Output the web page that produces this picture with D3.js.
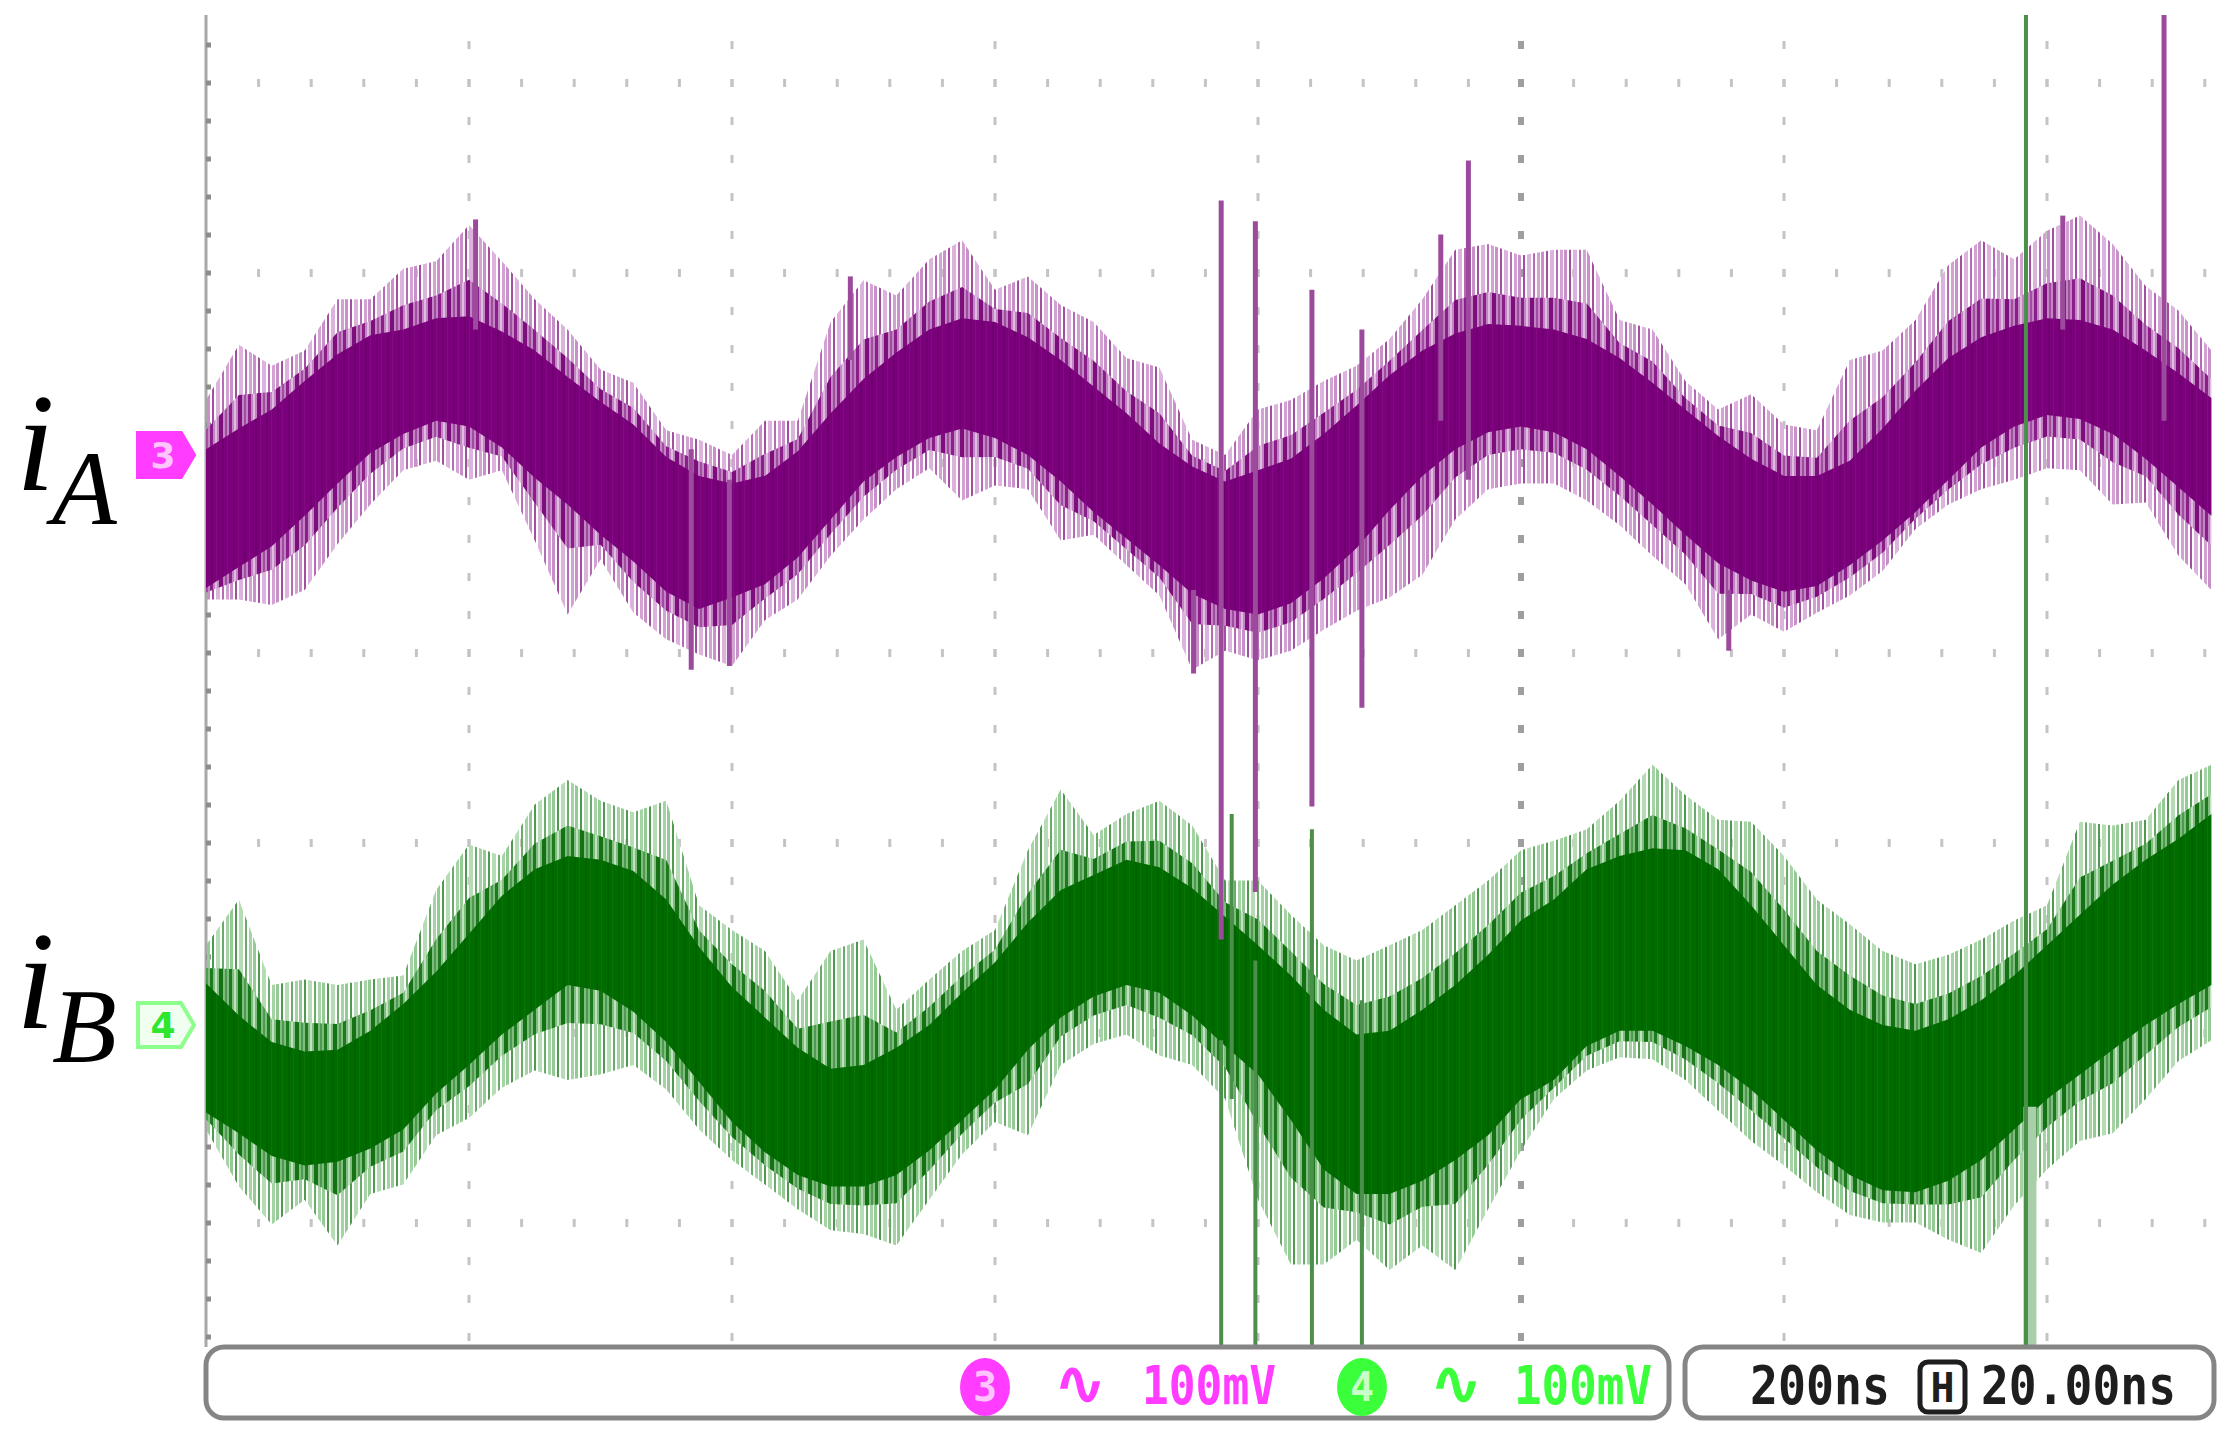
<!DOCTYPE html>
<html>
<head>
<meta charset="utf-8">
<script src="https://cdn.jsdelivr.net/npm/d3@7"></script>
<style>
  html, body { margin: 0; padding: 0; background: #fff; }
  svg { display: block; }
</style>
</head>
<body>
<svg id="scope" width="2237" height="1435"></svg>
<script>
// sample times in ns (200 ns/div), read every 25 ns from the left edge of the screen
const times = [0,25,50,75,100,125,150,175,200,225,250,275,300,325,350,375,400,425,450,475,500,525,550,575,600,625,650,675,700,725,750,775,800,825,850,875,900,925,950,975,1000,1025,1050,1075,1100,1125,1150,1175,1200,1225,1250,1275,1300,1325,1350,1375,1400,1425,1450,1475,1500,1525];

// channel 3 (iA), mV relative to its ground marker: dense band and spike reach
const aCoreHi  = [3,14,24,39,53,63,66,72,73,65,55,41,28,16,-1,-11,-15,-11,2,22,40,54,66,72,70,62,50,36,22,6,-6,-14,-8,-2,11,26,42,55,64,69,68,66,61,51,38,24,10,-2,-11,-11,-3,14,34,51,62,68,72,71,66,55,43,30];
const aCoreLo  = [-70,-59,-48,-32,-15,1,11,18,15,4,-12,-26,-42,-56,-72,-81,-75,-68,-54,-34,-14,-1,9,14,9,0,-14,-30,-44,-58,-73,-81,-84,-78,-65,-49,-29,-11,3,12,15,12,3,-11,-26,-42,-57,-66,-72,-69,-58,-45,-30,-13,4,15,21,19,11,-2,-17,-32];
const aOuterHi = [29,58,47,55,82,82,98,102,121,102,82,66,45,38,13,8,0,18,18,70,92,84,103,113,87,94,79,70,51,46,8,0,24,29,39,47,61,82,108,111,105,108,108,71,66,39,24,32,16,13,50,55,71,100,113,103,118,126,111,89,76,55];
const aOuterLo = [-76,-76,-79,-71,-47,-26,-8,-3,-13,-8,-45,-84,-55,-83,-97,-105,-111,-87,-76,-53,-34,-18,-7,-24,-16,-18,-45,-42,-58,-74,-113,-103,-108,-103,-92,-82,-75,-63,-34,-18,-15,-15,-24,-37,-53,-68,-97,-84,-93,-83,-74,-61,-39,-26,-18,-13,-7,-8,-26,-25,-53,-71];

// channel 4 (iB)
const bCoreHi  = [22,5,-9,-14,-13,-3,11,28,48,68,82,89,87,81,66,41,20,4,-12,-23,-21,-12,0,17,33,54,71,79,87,83,72,57,42,26,8,-5,-3,8,21,37,55,66,82,89,93,92,82,63,42,21,8,0,-3,3,13,26,42,58,74,87,98,111];
const bCoreLo  = [-46,-57,-69,-74,-72,-65,-55,-36,-21,-5,8,21,18,7,-9,-30,-51,-67,-79,-85,-85,-79,-66,-50,-34,-13,4,15,21,17,5,-11,-26,-50,-76,-89,-89,-82,-71,-58,-39,-29,-11,-3,-3,-11,-21,-34,-50,-66,-79,-87,-88,-82,-71,-55,-39,-26,-13,0,11,21];
const bOuterHi = [42,66,21,24,21,24,26,71,95,89,116,129,118,112,118,63,50,39,13,39,45,8,24,39,50,92,124,100,111,118,105,76,76,58,42,34,42,50,63,76,92,97,103,118,137,121,108,107,89,66,53,39,32,37,45,55,63,107,105,108,129,137];
const bOuterLo = [-55,-85,-105,-92,-116,-89,-84,-58,-49,-33,-24,-29,-26,-21,-34,-55,-71,-84,-97,-108,-110,-116,-92,-68,-51,-58,-21,-10,-5,-16,-21,-39,-92,-126,-126,-113,-129,-116,-129,-97,-66,-39,-24,-17,-18,-29,-45,-61,-74,-88,-100,-104,-104,-113,-120,-95,-76,-61,-57,-39,-19,-8];

// isolated glitches (ns, mV top, mV bottom)
const aSpikeT  = [205,369,398,490,751,772,798,841,879,939,960,1158,1412,1489];
const aSpikeHi = [124,3,-13,94,-71,134,123,87,66,116,155,-71,126,232];
const aSpikeLo = [66,-113,-111,50,-115,-255,-230,-185,-133,18,-13,-103,66,18];
const bSpikeT  = [772,780,798,841,879,1384];
const bSpikeHi = [-8,111,34,103,13,532];
const bSpikeLo = [-169,-39,-169,-169,-169,-169];
const bSmearT  = [1387];
const bSmearHi = [-43];
const bSmearLo = [-169];

const W = 2237, H = 1435;
const svg = d3.select('#scope');
const defs = svg.append('defs');
const scr = {left: 206, right: 2217, top: 15, bottom: 1347};

const x = d3.scaleLinear().domain([0, 2000]).range([206, 206 + 263 * 10]);
const screenY = d3.scaleLinear().domain([-3, 3]).range([1223, 83]);
const chA = {offset: 1.042}, chB = {offset: -1.958};
const yOf = (ch, mv) => screenY(ch.offset + mv / 100);

svg.append('rect').attr('width', W).attr('height', H).attr('fill', '#fff');

defs.append('clipPath').attr('id', 'clip')
  .append('rect')
  .attr('x', scr.left).attr('y', scr.top)
  .attr('width', scr.right - scr.left).attr('height', scr.bottom - scr.top);

// stripe fills that imitate the persistence hatching of the scope
function stripes(id, width, bg, bars) {
  const p = defs.append('pattern').attr('id', id)
    .attr('patternUnits', 'userSpaceOnUse').attr('width', width).attr('height', 40);
  if (bg) p.append('rect').attr('width', width).attr('height', 40).attr('fill', bg);
  bars.forEach(([x0, w, c]) => p.append('rect').attr('x', x0).attr('width', w).attr('height', 40).attr('fill', c));
}
stripes('aOuter', 23, null, [[0, 3, '#c98fc9'], [5, 2, '#a24fa2'], [9, 4, '#dcb3dc'], [15, 2, '#b66bb6'], [19, 3, '#d2a2d2']]);
stripes('aMid', 19, '#c384c3', [[1, 3, '#8a1f8a'], [6, 2, '#e0bde0'], [10, 4, '#7d0f7d'], [16, 2, '#a04ca0']]);
stripes('aCore', 11, '#7b007b', [[2, 2, '#700070'], [7, 1, '#840a84']]);
stripes('bOuter', 23, null, [[0, 3, '#94cb94'], [5, 2, '#4f9a4f'], [9, 4, '#b6dcb6'], [15, 2, '#6aaa6a'], [19, 3, '#a5d3a5']]);
stripes('bMid', 19, '#7fbd7f', [[1, 3, '#1f7a1f'], [6, 2, '#c0e2c0'], [10, 4, '#147214'], [16, 2, '#4e9a4e']]);
stripes('bCore', 11, '#006c00', [[2, 2, '#006300'], [7, 1, '#0a740a']]);

// graticule
const grid = svg.append('g');
const rowVals = d3.range(-3, 3.01, 1);
const colTimes = d3.range(200, 1601, 200).filter(t => x(t) < scr.right);
const minorT = d3.range(0, 1700, 40).filter(t => x(t) > scr.left + 4 && x(t) < scr.right);
const minorV = d3.range(-3.6, 3.41, 0.2).filter(v => screenY(v) > scr.top && screenY(v) < scr.bottom - 4);

rowVals.forEach(v => {
  grid.selectAll(null).data(minorT).join('rect')
    .attr('x', t => x(t) - 1.5).attr('y', screenY(v) - 4)
    .attr('width', 3).attr('height', 8).attr('fill', '#c4c4c4');
});
colTimes.forEach(t => {
  const centre = t === 1000;
  grid.selectAll(null).data(minorV).join('rect')
    .attr('x', x(t) - (centre ? 3 : 1.5)).attr('y', v => screenY(v) - 4)
    .attr('width', centre ? 6 : 3).attr('height', 8)
    .attr('fill', centre ? '#9e9e9e' : '#c4c4c4');
});
grid.append('line')
  .attr('x1', scr.left).attr('x2', scr.left)
  .attr('y1', scr.top).attr('y2', scr.bottom)
  .attr('stroke', '#a8a8a8').attr('stroke-width', 3);
grid.selectAll(null).data(minorV).join('rect')
  .attr('x', scr.left).attr('y', v => screenY(v) - 2.5)
  .attr('width', 5).attr('height', 5).attr('fill', '#8c8c8c');

// traces
const traces = svg.append('g').attr('clip-path', 'url(#clip)');

function band(ch, hi, lo, fill) {
  const a = d3.area()
    .x((d, i) => x(times[i]))
    .y0((d, i) => yOf(ch, lo[i]))
    .y1((d, i) => yOf(ch, hi[i]));
  traces.append('path').datum(times).attr('d', a).attr('fill', fill);
}
function trace(ch, coreHi, coreLo, outerHi, outerLo, key) {
  // inner fringe: part way from the dense band to the spike reach
  const midHi = coreHi.map((v, i) => v + 0.4 * (outerHi[i] - v));
  const midLo = coreLo.map((v, i) => v + 0.4 * (outerLo[i] - v));
  band(ch, outerHi, outerLo, `url(#${key}Outer)`);
  band(ch, midHi, midLo, `url(#${key}Mid)`);
  band(ch, coreHi, coreLo, `url(#${key}Core)`);
}
function spikes(ch, ts, his, los, colour, width) {
  traces.append('g').selectAll('line').data(ts).join('line')
    .attr('x1', t => x(t)).attr('x2', t => x(t))
    .attr('y1', (t, i) => yOf(ch, his[i]))
    .attr('y2', (t, i) => yOf(ch, los[i]))
    .attr('stroke', colour).attr('stroke-width', width);
}

trace(chB, bCoreHi, bCoreLo, bOuterHi, bOuterLo, 'b');
trace(chA, aCoreHi, aCoreLo, aOuterHi, aOuterLo, 'a');
spikes(chA, aSpikeT, aSpikeHi, aSpikeLo, '#9c4a9c', 5);
spikes(chB, bSmearT, bSmearHi, bSmearLo, '#a8cfa8', 13);
spikes(chB, bSpikeT, bSpikeHi, bSpikeLo, '#4a904a', 4);

// channel markers and labels
const markers = svg.append('g');
function marker(y, fill, stroke, textFill, label) {
  const p = d3.path();
  p.moveTo(138, y - 22); p.lineTo(181, y - 22); p.lineTo(194, y);
  p.lineTo(181, y + 22); p.lineTo(138, y + 22); p.closePath();
  markers.append('path').attr('d', p.toString())
    .attr('fill', fill).attr('stroke', stroke).attr('stroke-width', 4);
  markers.append('text').attr('x', 163).attr('y', y + 13)
    .attr('text-anchor', 'middle')
    .attr('font-family', 'DejaVu Sans').attr('font-weight', 'bold').attr('font-size', 36)
    .attr('fill', textFill).text(label);
}
marker(yOf(chA, 0), '#ff3cff', '#ff3cff', '#ffc4ff', '3');
marker(yOf(chB, 0), '#f0fff0', '#8cff8c', '#2ee62e', '4');

function chLabel(yBase, sub) {
  const g = svg.append('g').attr('font-family', 'Liberation Serif, Times New Roman, serif')
    .attr('font-style', 'italic').attr('fill', '#000');
  g.append('text').attr('x', 16).attr('y', yBase).attr('font-size', 140).text('i');
  g.append('text').attr('x', 52).attr('y', yBase + 34).attr('font-size', 106).text(sub);
}
chLabel(490, 'A');
chLabel(1028, 'B');

// status bar
const bar = svg.append('g');
bar.append('rect').attr('x', 206).attr('y', 1347).attr('width', 1463).attr('height', 71)
  .attr('rx', 18).attr('fill', '#fff').attr('stroke', '#858585').attr('stroke-width', 5);
bar.append('rect').attr('x', 1685).attr('y', 1347).attr('width', 529).attr('height', 71)
  .attr('rx', 18).attr('fill', '#fff').attr('stroke', '#858585').attr('stroke-width', 5);

const mono = 'DejaVu Sans Mono, monospace';
function badge(cx, fill, textFill, label) {
  bar.append('ellipse').attr('cx', cx).attr('cy', 1387).attr('rx', 25).attr('ry', 29).attr('fill', fill);
  bar.append('text').attr('x', cx).attr('y', 1401).attr('text-anchor', 'middle')
    .attr('font-family', mono).attr('font-weight', 'bold').attr('font-size', 40)
    .attr('fill', textFill).text(label);
}
function barText(x0, len, colour, s) {
  bar.append('text').attr('x', x0).attr('y', 1404)
    .attr('textLength', len).attr('lengthAdjust', 'spacingAndGlyphs')
    .attr('font-family', mono).attr('font-weight', 'bold').attr('font-size', 54)
    .attr('fill', colour).text(s);
}
function wave(cx, colour) {
  bar.append('text').attr('x', cx).attr('y', 1405).attr('text-anchor', 'middle')
    .attr('font-family', 'DejaVu Sans').attr('font-weight', 'bold').attr('font-size', 64)
    .attr('fill', colour).text('\u223F');
}
badge(985, '#ff3cff', '#ffc4ff', '3');
wave(1080, '#ff3cff');
barText(1142, 134, '#ff3cff', '100mV');
badge(1362, '#3cff3c', '#c8ffc8', '4');
wave(1456, '#3cff3c');
barText(1514, 138, '#3cff3c', '100mV');

barText(1750, 140, '#1e1e1e', '200ns');
bar.append('rect').attr('x', 1920).attr('y', 1362).attr('width', 45).attr('height', 50)
  .attr('rx', 8).attr('fill', '#fff').attr('stroke', '#1e1e1e').attr('stroke-width', 5);
bar.append('text').attr('x', 1942.5).attr('y', 1402).attr('text-anchor', 'middle')
  .attr('font-family', mono).attr('font-weight', 'bold').attr('font-size', 40)
  .attr('fill', '#1e1e1e').text('H');
barText(1981, 195, '#1e1e1e', '20.00ns');
</script>
</body>
</html>
